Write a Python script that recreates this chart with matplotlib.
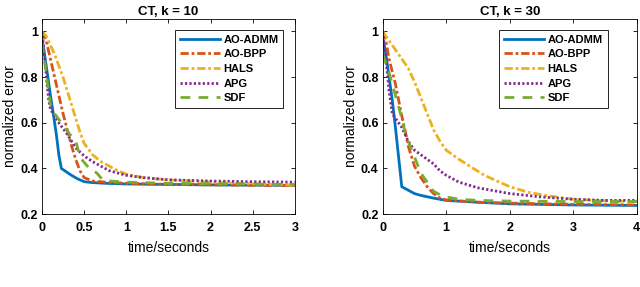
import matplotlib
matplotlib.use("Agg")
import matplotlib.pyplot as plt

plt.rcParams['font.family'] = ['Liberation Sans', 'DejaVu Sans']

# MATLAB default colours
colors = {
    'AO-ADMM': '#0072BD',
    'AO-BPP': '#D95319',
    'HALS': '#EDB120',
    'APG': '#7E2F8E',
    'SDF': '#77AC30',
}
styles = {
    'AO-ADMM': '-',
    'AO-BPP': (0, (3, 1, 1, 1)),
    'HALS': (0, (3, 1, 1, 1)),
    'APG': (0, (0.8, 0.8)),
    'SDF': (0, (3.5, 3)),
}
methods = ['AO-ADMM', 'AO-BPP', 'HALS', 'APG', 'SDF']

# ---- CT, k = 10 ----
k10_admm_t = [0, 0.03, 0.07, 0.1, 0.13, 0.17, 0.2, 0.23, 0.27, 0.35, 0.42, 0.5, 0.6, 0.75, 1.0, 1.5, 2, 2.5, 3]
k10_admm_v = [0.97, 0.9, 0.8, 0.72, 0.65, 0.55, 0.46, 0.40, 0.39, 0.37, 0.355, 0.342, 0.338, 0.335, 0.332, 0.33, 0.328, 0.327, 0.326]
k10_bpp_t = [0, 0.05, 0.1, 0.15, 0.2, 0.25, 0.3, 0.35, 0.4, 0.45, 0.5, 0.6, 0.75, 1.0, 1.5, 2, 3]
k10_bpp_v = [1.0, 0.96, 0.88, 0.80, 0.72, 0.64, 0.57, 0.50, 0.44, 0.39, 0.36, 0.345, 0.34, 0.335, 0.33, 0.328, 0.325]
k10_hals_t = [0, 0.05, 0.1, 0.15, 0.2, 0.25, 0.3, 0.35, 0.4, 0.45, 0.5, 0.6, 0.7, 0.8, 0.9, 1.0, 1.2, 1.5, 2, 2.5, 3]
k10_hals_v = [1.0, 0.98, 0.94, 0.9, 0.85, 0.8, 0.74, 0.68, 0.62, 0.56, 0.51, 0.46, 0.43, 0.41, 0.39, 0.375, 0.36, 0.35, 0.34, 0.333, 0.327]
k10_apg_t = [0, 0.02, 0.04, 0.06, 0.08, 0.1, 0.15, 0.2, 0.25, 0.3, 0.35, 0.4, 0.5, 0.6, 0.7, 0.8, 0.9, 1.0, 1.2, 1.5, 2, 2.5, 3]
k10_apg_v = [1.0, 0.93, 0.85, 0.77, 0.70, 0.66, 0.63, 0.60, 0.575, 0.55, 0.52, 0.49, 0.455, 0.43, 0.41, 0.39, 0.38, 0.37, 0.36, 0.35, 0.345, 0.342, 0.34]
k10_sdf_t = [0, 0.02, 0.05, 0.08, 0.1, 0.15, 0.2, 0.25, 0.3, 0.35, 0.4, 0.43, 0.47, 0.55, 0.65, 0.72, 0.8, 1.0, 1.5, 2, 3]
k10_sdf_v = [0.95, 0.9, 0.82, 0.73, 0.68, 0.64, 0.615, 0.59, 0.565, 0.54, 0.52, 0.48, 0.44, 0.405, 0.38, 0.35, 0.345, 0.34, 0.335, 0.333, 0.33]

# ---- CT, k = 30 ----
k30_admm_t = [0, 0.05, 0.1, 0.15, 0.2, 0.25, 0.3, 0.4, 0.5, 0.6, 0.8, 1.0, 1.5, 2, 3, 4]
k30_admm_v = [0.97, 0.90, 0.80, 0.70, 0.58, 0.45, 0.32, 0.305, 0.29, 0.282, 0.27, 0.26, 0.252, 0.245, 0.24, 0.238]
k30_bpp_t = [0, 0.05, 0.1, 0.2, 0.3, 0.35, 0.4, 0.5, 0.6, 0.7, 0.8, 0.9, 1.0, 1.5, 2, 3, 4]
k30_bpp_v = [1.0, 0.96, 0.88, 0.77, 0.63, 0.57, 0.50, 0.41, 0.36, 0.32, 0.29, 0.27, 0.262, 0.252, 0.248, 0.243, 0.24]
k30_hals_t = [0, 0.1, 0.2, 0.3, 0.4, 0.5, 0.6, 0.7, 0.8, 0.9, 1.0, 1.2, 1.4, 1.6, 1.8, 2.0, 2.3, 2.6, 3.0, 3.5, 4.0]
k30_hals_v = [1.0, 0.96, 0.92, 0.88, 0.84, 0.78, 0.71, 0.64, 0.57, 0.52, 0.48, 0.44, 0.405, 0.37, 0.345, 0.32, 0.295, 0.28, 0.265, 0.258, 0.255]
k30_apg_t = [0, 0.05, 0.1, 0.15, 0.2, 0.3, 0.4, 0.5, 0.6, 0.7, 0.8, 0.9, 1.0, 1.2, 1.5, 2.0, 2.5, 3.0, 3.5, 4.0]
k30_apg_v = [1.0, 0.88, 0.74, 0.64, 0.62, 0.58, 0.52, 0.48, 0.46, 0.44, 0.42, 0.39, 0.37, 0.34, 0.315, 0.29, 0.275, 0.265, 0.26, 0.26]
k30_sdf_t = [0, 0.05, 0.1, 0.2, 0.3, 0.35, 0.4, 0.5, 0.6, 0.7, 0.8, 0.9, 1.0, 1.2, 1.5, 2, 3, 4]
k30_sdf_v = [0.90, 0.86, 0.82, 0.72, 0.62, 0.56, 0.52, 0.45, 0.38, 0.34, 0.30, 0.285, 0.275, 0.265, 0.26, 0.257, 0.255, 0.255]

k10_curves = {
    'AO-ADMM': (k10_admm_t, k10_admm_v),
    'AO-BPP': (k10_bpp_t, k10_bpp_v),
    'HALS': (k10_hals_t, k10_hals_v),
    'APG': (k10_apg_t, k10_apg_v),
    'SDF': (k10_sdf_t, k10_sdf_v),
}
k30_curves = {
    'AO-ADMM': (k30_admm_t, k30_admm_v),
    'AO-BPP': (k30_bpp_t, k30_bpp_v),
    'HALS': (k30_hals_t, k30_hals_v),
    'APG': (k30_apg_t, k30_apg_v),
    'SDF': (k30_sdf_t, k30_sdf_v),
}

k10_xticks = [0, 0.5, 1, 1.5, 2, 2.5, 3]
k10_xlabels = ['0', '0.5', '1', '1.5', '2', '2.5', '3']
k30_xticks = [0, 1, 2, 3, 4]
k30_xlabels = ['0', '1', '2', '3', '4']
yticks = [0.2, 0.4, 0.6, 0.8, 1.0]
ylabels = ['0.2', '0.4', '0.6', '0.8', '1']

fig = plt.figure(figsize=(6.4, 2.87), dpi=100)
ax1 = fig.add_axes([0.0656, 0.254, 0.395, 0.680])
ax2 = fig.add_axes([0.598, 0.254, 0.397, 0.680])

panels = [
    (ax1, k10_curves, 'CT, k = 10', 3, k10_xticks, k10_xlabels, 0.955),
    (ax2, k30_curves, 'CT, k = 30', 4, k30_xticks, k30_xlabels, 0.885),
]

for ax, curves, title, xmax, xt, xl, leg_x in panels:
    for name in methods:
        t, v = curves[name]
        ax.plot(t, v, color=colors[name], ls=styles[name], lw=2.0, label=name)
    ax.set_xlim(0, xmax)
    ax.set_ylim(0.2, 1.055)
    ax.set_xticks(xt)
    ax.set_xticklabels(xl)
    ax.set_yticks(yticks)
    ax.set_yticklabels(ylabels)
    ax.tick_params(direction='in', top=True, right=True, length=3, width=0.6,
                   labelsize=9, pad=3)
    ax.tick_params(axis='x', pad=6)
    for lab in ax.get_xticklabels() + ax.get_yticklabels():
        lab.set_fontweight('bold')
    for sp in ax.spines.values():
        sp.set_linewidth(0.6)
    ax.set_title(title, fontsize=9.5, fontweight='bold', pad=3)
    ax.set_xlabel('time/seconds', fontsize=10, labelpad=5)
    ax.set_ylabel('normalized error', fontsize=10, labelpad=2)
    leg = ax.legend(loc='upper right', bbox_to_anchor=(leg_x, 0.945),
                    borderaxespad=0, fontsize=8, handlelength=3.6,
                    handletextpad=0.3, labelspacing=0.42, borderpad=0.45,
                    fancybox=False, framealpha=1, edgecolor='black')
    leg.get_frame().set_linewidth(0.6)
    for txt in leg.get_texts():
        txt.set_fontweight('bold')

fig.savefig('out.png', dpi=100)
